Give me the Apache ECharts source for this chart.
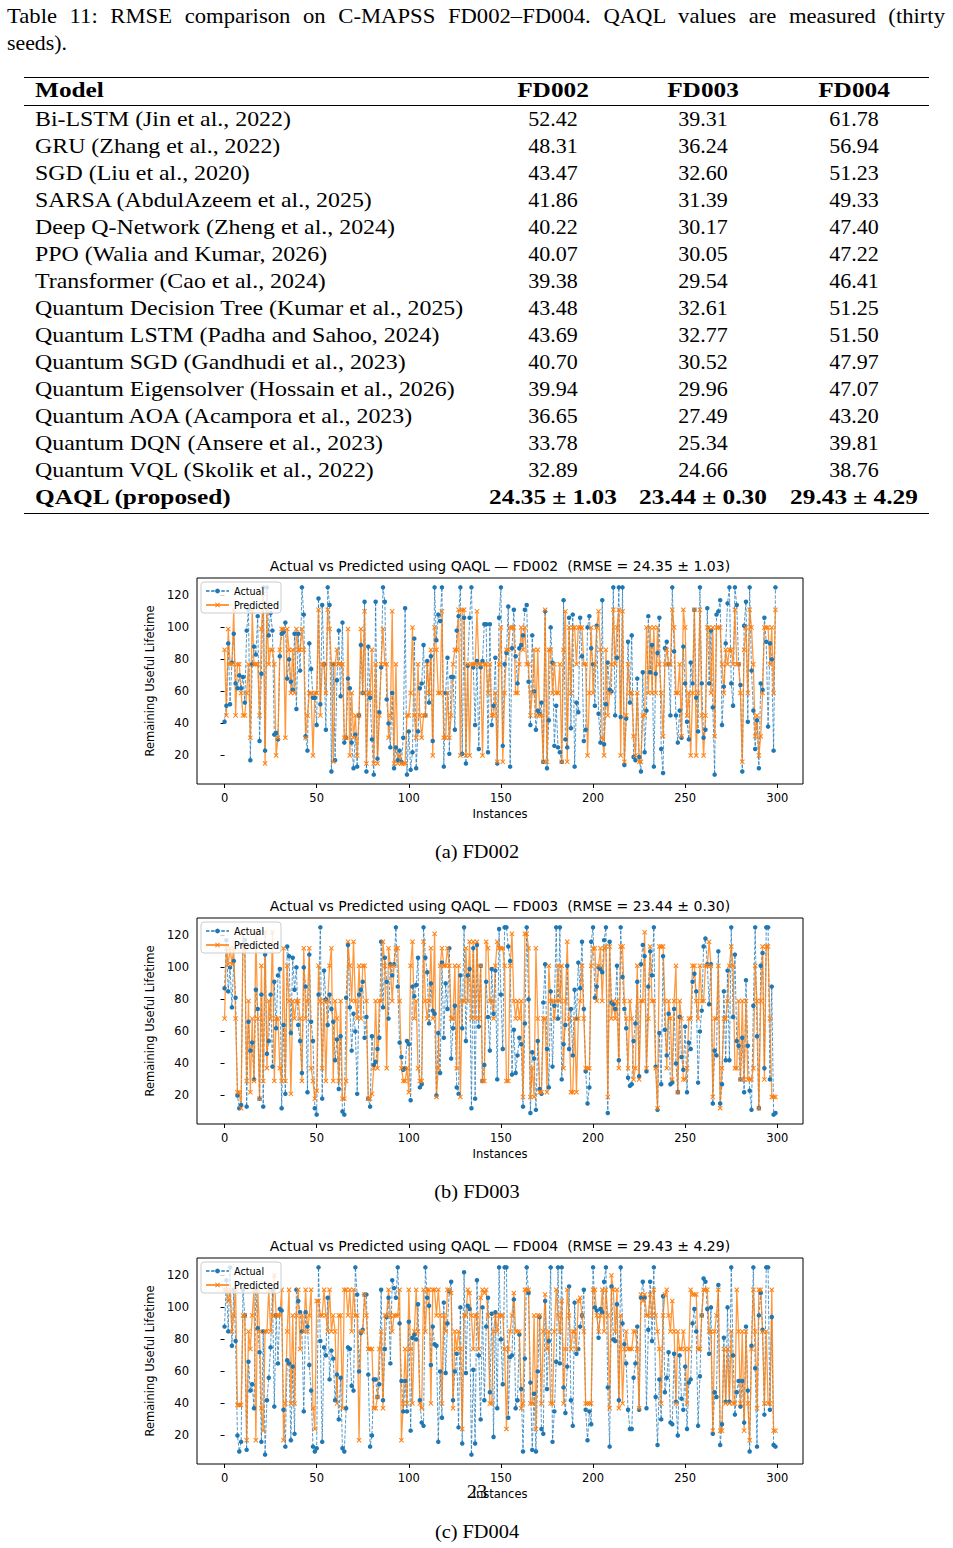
<!DOCTYPE html>
<html>
<head>
<meta charset="utf-8">
<script src="https://cdn.jsdelivr.net/npm/echarts@6/dist/echarts.min.js"></script>
<style>
  html, body { margin: 0; padding: 0; background: #fff; }
  #page { position: relative; width: 953px; height: 1548px; overflow: hidden; }
  #chart { position: absolute; left: 0; top: 0; width: 953px; height: 1548px; }
  .t { position: absolute; white-space: nowrap; font-family: "Liberation Serif", serif; color: #000; z-index: 2; }
  .rule { position: absolute; left: 24px; width: 905px; background: #000; z-index: 2; }
</style>
</head>
<body>
<div id="page"><div id="chart"></div></div>
<script>
// ── 表格数据 ──
const models = [
  'Bi-LSTM (Jin et al., 2022)', 'GRU (Zhang et al., 2022)', 'SGD (Liu et al., 2020)',
  'SARSA (AbdulAzeem et al., 2025)', 'Deep Q-Network (Zheng et al., 2024)',
  'PPO (Walia and Kumar, 2026)', 'Transformer (Cao et al., 2024)',
  'Quantum Decision Tree (Kumar et al., 2025)', 'Quantum LSTM (Padha and Sahoo, 2024)',
  'Quantum SGD (Gandhudi et al., 2023)', 'Quantum Eigensolver (Hossain et al., 2026)',
  'Quantum AOA (Acampora et al., 2023)', 'Quantum DQN (Ansere et al., 2023)',
  'Quantum VQL (Skolik et al., 2022)',
];
const rmseFD002 = ['52.42','48.31','43.47','41.86','40.22','40.07','39.38','43.48','43.69','40.70','39.94','36.65','33.78','32.89'];
const rmseFD003 = ['39.31','36.24','32.60','31.39','30.17','30.05','29.54','32.61','32.77','30.52','29.96','27.49','25.34','24.66'];
const rmseFD004 = ['61.78','56.94','51.23','49.33','47.40','47.22','46.41','51.25','51.50','47.97','47.07','43.20','39.81','38.76'];
const qaqlRow = ['QAQL (proposed)', '24.35 ± 1.03', '23.44 ± 0.30', '29.43 ± 4.29'];

// ── 图表数据 ──
const xTicks = [0, 50, 100, 150, 200, 250, 300];
const yTicks = [20, 40, 60, 80, 100, 120];
const titles = [
  'Actual vs Predicted using QAQL — FD002  (RMSE = 24.35 ± 1.03)',
  'Actual vs Predicted using QAQL — FD003  (RMSE = 23.44 ± 0.30)',
  'Actual vs Predicted using QAQL — FD004  (RMSE = 29.43 ± 4.29)',
];
const captions = ['(a) FD002', '(b) FD003', '(c) FD004'];

const fd002Actual = [
  41,51,90,52,78,96,65,62,70,62,69,53,98,111,17,77,88,83,107,29,
  71,125,23,125,95,109,98,33,34,30,82,96,97,103,68,80,66,61,96,49,
  96,73,125,108,32,23,90,74,56,56,39,118,52,114,77,36,125,114,10,77,
  17,67,98,57,103,28,31,68,62,28,12,33,13,45,89,59,116,10,88,56,
  30,8,116,18,47,75,125,116,55,40,25,59,12,25,17,23,16,31,112,8,
  35,11,22,93,12,35,62,65,89,45,79,53,82,29,125,92,108,104,125,13,
  59,81,21,69,69,36,98,107,125,21,106,15,76,106,125,75,39,79,24,75,
  79,102,102,22,102,39,51,81,15,106,125,26,77,84,113,13,87,111,82,65,
  87,89,95,111,114,66,39,95,60,36,48,46,53,16,110,12,42,100,78,26,
  51,25,22,16,117,30,25,106,37,108,13,53,47,106,82,29,36,100,107,87,
  77,51,101,46,28,117,27,52,78,61,60,125,45,81,125,44,125,14,43,91,
  53,95,19,17,68,19,10,72,22,48,107,72,89,13,71,84,106,24,9,87,
  91,77,45,125,85,45,28,48,31,88,65,41,30,78,65,111,56,35,125,65,
  31,36,112,65,98,50,8,108,110,117,39,63,90,115,125,65,51,125,114,77,
  64,10,101,116,41,125,73,48,24,42,12,65,61,106,91,38,90,80,23,125,
];
const fd002Predicted = [
  86,45,99,77,77,111,45,77,77,59,45,45,59,77,31,110,77,77,77,45,
  99,121,15,110,77,86,86,77,20,31,86,99,99,31,99,86,59,86,59,99,
  86,86,99,86,31,45,59,59,20,59,59,111,45,77,77,59,111,99,77,16,
  77,86,77,77,77,31,31,99,20,59,31,45,20,45,99,59,110,15,59,59,
  86,15,77,15,45,77,99,77,77,31,45,110,15,77,15,20,15,15,15,45,
  45,59,100,45,31,77,45,31,45,45,77,59,86,20,100,86,59,59,110,31,
  31,59,31,45,77,86,86,111,20,111,111,20,77,20,77,77,77,110,77,77,
  20,77,77,59,77,45,45,59,16,77,100,16,59,86,86,100,100,100,59,59,
  77,100,86,100,77,77,45,59,86,45,86,45,45,16,111,16,86,86,59,77,
  59,59,77,16,86,110,16,100,59,100,100,77,100,100,100,77,77,20,59,100,
  59,77,100,110,86,31,20,86,45,59,77,111,77,100,111,20,110,16,45,77,
  59,59,32,20,59,16,16,45,45,100,59,100,59,100,59,100,77,59,32,77,
  86,77,77,111,100,59,59,77,32,111,100,45,59,20,59,111,20,59,111,45,
  20,45,100,100,59,100,32,100,100,100,77,59,86,77,86,86,77,111,77,77,
  59,16,86,100,59,111,100,77,32,45,20,32,59,100,100,100,77,100,59,111,
];
const fd003Actual = [
  87,117,85,100,75,104,81,20,12,14,114,117,13,66,48,53,30,86,74,18,
  83,13,108,46,54,83,38,91,62,95,99,12,64,21,113,107,59,106,86,100,
  64,54,34,100,88,22,108,66,54,12,8,83,125,18,98,80,64,83,74,66,
  42,55,24,57,10,8,81,114,75,48,71,60,21,83,86,91,56,69,18,13,
  57,39,41,49,56,116,75,106,91,68,102,95,102,125,88,53,44,36,37,54,
  52,17,88,82,89,106,25,27,125,106,97,65,90,73,71,20,59,34,103,56,
  90,74,112,43,62,76,25,21,95,62,125,54,95,99,12,112,18,114,63,101,
  29,39,91,69,48,99,71,98,30,124,83,49,125,125,113,104,33,61,34,45,
  56,52,13,65,125,80,9,47,43,11,54,24,21,78,102,49,25,85,38,76,
  125,68,125,30,52,64,101,49,74,45,86,68,103,87,116,74,35,15,25,116,
  125,81,88,100,99,97,117,125,9,116,78,77,74,101,42,125,94,74,62,31,
  26,27,54,65,91,32,102,114,107,35,88,110,95,125,38,11,59,27,107,61,
  45,71,27,28,74,40,22,69,44,36,63,22,53,49,91,96,85,28,60,73,
  113,118,102,77,102,15,48,45,110,15,27,85,42,98,42,125,69,108,54,51,
  30,56,22,92,51,23,11,76,125,57,12,101,109,37,125,125,30,88,8,9,
];
const fd003Predicted = [
  68,112,102,112,102,112,68,22,22,12,122,112,29,79,22,68,29,122,68,18,
  101,29,122,37,79,68,122,29,68,68,37,29,112,29,101,79,21,79,68,79,
  79,68,29,112,68,79,112,37,29,18,23,101,79,37,79,29,79,101,112,29,
  79,68,29,79,18,18,29,116,101,79,116,79,68,101,68,101,101,79,18,18,
  21,37,79,37,79,79,116,101,37,112,101,79,101,112,112,79,37,29,29,37,
  22,101,116,68,79,37,29,29,116,79,68,79,112,68,121,19,37,101,112,101,
  101,112,101,68,68,101,37,101,19,79,79,112,79,116,68,116,68,116,68,101,
  29,29,116,112,79,79,68,101,116,112,112,112,101,29,29,101,121,79,68,79,
  68,79,19,121,121,112,19,37,19,112,68,22,22,68,68,22,101,79,79,68,
  79,101,79,101,37,79,116,68,22,22,68,22,68,79,101,68,37,37,37,101,
  112,112,79,101,112,79,112,113,19,113,68,79,68,79,37,113,113,79,68,37,
  79,68,30,37,101,30,79,79,122,37,68,113,79,79,37,12,113,113,113,79,
  37,79,68,30,79,101,22,79,68,30,30,37,68,68,101,101,79,68,101,79,
  79,101,101,116,101,19,68,68,101,12,37,68,68,79,101,113,101,37,37,79,
  30,79,30,79,30,30,30,37,101,79,12,79,113,30,113,113,68,19,19,19,
];
const fd004Actual = [
  88,117,85,125,76,111,79,20,10,16,111,95,11,66,48,52,37,111,87,72,
  16,85,8,42,56,75,111,38,95,65,99,98,36,13,67,65,17,63,21,111,
  104,97,85,35,97,88,64,48,13,10,12,125,79,16,75,70,106,55,73,68,
  42,58,30,56,12,10,37,75,74,51,48,125,108,60,84,86,108,108,58,13,
  20,55,55,44,52,111,42,74,94,106,65,117,112,106,125,90,54,35,54,35,
  91,23,81,83,80,102,42,28,26,125,106,101,64,88,77,76,16,60,31,103,
  59,90,110,116,42,60,71,25,100,15,122,59,101,99,8,61,15,117,70,30,
  100,42,88,106,47,96,19,97,37,125,80,52,125,125,31,69,70,105,37,42,
  83,49,10,68,125,109,53,11,46,10,60,94,24,21,104,49,79,125,16,35,
  66,125,65,125,50,34,63,113,42,26,103,71,74,88,95,111,36,17,35,27,
  125,100,98,81,99,97,116,125,50,13,113,80,79,102,42,125,90,77,65,36,
  24,24,56,65,88,36,106,116,106,37,86,116,79,125,44,14,55,30,107,47,
  56,72,28,27,71,41,20,70,43,36,63,24,53,55,90,99,85,26,57,95,
  118,116,99,71,100,21,47,44,114,14,27,81,41,100,41,125,70,33,47,54,
  38,54,28,88,48,10,76,125,62,13,95,109,86,33,125,125,36,94,14,13,
];
const fd004Predicted = [
  111,111,104,111,85,95,111,39,39,39,95,95,17,85,74,95,111,17,111,85,
  37,23,85,85,111,85,95,120,95,95,95,111,17,40,85,111,40,95,40,95,
  111,74,95,85,111,85,95,111,37,24,104,104,95,95,111,95,85,111,85,95,
  85,40,95,95,37,111,111,95,111,85,111,95,95,17,85,85,108,95,74,74,
  74,37,37,44,74,85,37,95,95,111,95,85,95,95,95,111,17,40,74,40,
  111,74,40,85,111,85,40,37,111,85,111,111,40,111,111,95,111,95,40,95,
  85,111,111,109,37,85,74,85,74,24,95,95,111,109,95,74,95,95,74,106,
  111,109,111,95,40,40,85,95,85,95,95,95,74,24,74,85,95,109,85,85,
  85,37,40,111,111,111,40,40,95,24,95,95,40,85,108,74,85,40,40,85,
  111,95,85,104,40,74,111,95,74,85,85,74,104,106,95,85,40,40,40,40,
  111,111,95,85,95,111,85,111,95,37,120,111,85,111,37,95,40,74,85,74,
  74,74,85,85,74,37,108,104,108,95,95,108,95,111,95,85,74,40,95,108,
  111,95,85,104,85,40,85,74,74,85,74,40,74,111,108,108,108,74,74,95,
  111,111,111,85,85,23,85,95,111,23,23,74,40,74,40,85,40,40,111,85,
  40,85,23,85,40,17,74,111,85,37,111,111,85,40,85,40,40,111,23,23,
];

const actualSets = [fd002Actual, fd003Actual, fd004Actual];
const predictedSets = [fd002Predicted, fd003Predicted, fd004Predicted];

// ── HTML 文本 ──
const page = document.getElementById('page');
// sx: 横向拉伸 (Computer Modern 比 Liberation Serif 宽)
function put(text, x, cy, size, align, bold, sx) {
  const d = document.createElement('div');
  d.className = 't';
  d.textContent = text;
  const lh = Math.round(size * 1.2);
  d.style.fontSize = size + 'px';
  d.style.lineHeight = lh + 'px';
  d.style.top = (cy - lh / 2) + 'px';
  if (bold) d.style.fontWeight = 'bold';
  if (align === 'center') {
    d.style.left = (x - 150) + 'px';
    d.style.width = '300px';
    d.style.textAlign = 'center';
  } else {
    d.style.left = x + 'px';
  }
  if (sx) {
    d.style.transform = 'scaleX(' + sx + ')';
    d.style.transformOrigin = align === 'center' ? 'center center' : 'left center';
  }
  page.appendChild(d);
  return d;
}
function rule(y, h) {
  const r = document.createElement('div');
  r.className = 'rule';
  r.style.top = y + 'px';
  r.style.height = h + 'px';
  page.appendChild(r);
}

// 表题 (第一行两端对齐)
const capScale = 1.1;
const cap1 = put('Table 11: RMSE comparison on C-MAPSS FD002–FD004.  QAQL values are measured (thirty', 7, 16, 20.6, 'left', false, capScale);
cap1.style.width = (938 / capScale) + 'px';
cap1.style.whiteSpace = 'normal';
cap1.style.textAlign = 'justify';
cap1.style.textAlignLast = 'justify';
put('seeds).', 7, 43, 20, 'left', false, 1.09);

const colX = [35, 553, 703, 854];
const fs = 22;
const plainSx = 1.085, boldSx = 1.15;
rule(77, 1.3);
put('Model', colX[0], 90, fs, 'left', true, boldSx);
['FD002', 'FD003', 'FD004'].forEach((h, i) => put(h, colX[i + 1], 90, fs, 'center', true, boldSx));
rule(104.5, 0.8);
models.forEach((m, r) => {
  const y = 119 + 27 * r;
  put(m, colX[0], y, fs, 'left', false, plainSx);
  put(rmseFD002[r], colX[1], y, fs, 'center');
  put(rmseFD003[r], colX[2], y, fs, 'center');
  put(rmseFD004[r], colX[3], y, fs, 'center');
});
put(qaqlRow[0], colX[0], 497, fs, 'left', true, boldSx);
for (let i = 1; i < 4; i++) put(qaqlRow[i], colX[i], 497, fs, 'center', true, boldSx);
rule(512.5, 1.3);

captions.forEach((c, k) => put(c, 476.5, 851 + 340 * k, 19, 'center', false, 1.07));
put('23', 477, 1491, 19, 'center', false, 1.07);

// ── ECharts ──
const chart = echarts.init(document.getElementById('chart'), null, { renderer: 'svg' });
const gridTops = [578, 918, 1258];
const sans = 'DejaVu Sans';
const xMark = 'path://M0,1.4L1.4,0L5,3.6L8.6,0L10,1.4L6.4,5L10,8.6L8.6,10L5,6.4L1.4,10L0,8.6L3.6,5Z';

const grids = gridTops.map(top => ({
  left: 197, top: top, width: 606, height: 206,
  show: true, borderColor: '#000', borderWidth: 1, backgroundColor: '#fff',
}));
const xAxes = gridTops.map((_, k) => ({
  type: 'value', gridIndex: k, min: -14.95, max: 313.95,
  name: 'Instances', nameLocation: 'middle', nameGap: 24,
  nameTextStyle: { fontFamily: sans, fontSize: 11.5, color: '#000' },
  axisLine: { show: false },
  axisTick: { show: true, length: 4, customValues: xTicks, lineStyle: { color: '#000' } },
  axisLabel: { customValues: xTicks, fontFamily: sans, fontSize: 11.5, color: '#000', margin: 8 },
  splitLine: { show: false },
}));
const yAxes = gridTops.map((_, k) => ({
  type: 'value', gridIndex: k, min: 2.15, max: 130.85,
  name: 'Remaining Useful Lifetime', nameLocation: 'middle', nameGap: 33,
  nameTextStyle: { fontFamily: sans, fontSize: 11.5, color: '#000' },
  axisLine: { show: false },
  axisTick: { show: true, length: 4, customValues: yTicks, lineStyle: { color: '#000' } },
  axisLabel: { customValues: yTicks, fontFamily: sans, fontSize: 11.5, color: '#000', margin: 8 },
  splitLine: { show: false },
}));

const series = [];
gridTops.forEach((_, k) => {
  series.push({
    name: 'Actual', type: 'line', xAxisIndex: k, yAxisIndex: k,
    data: actualSets[k].map((v, i) => [i, v]),
    symbol: 'circle', symbolSize: 4.5,
    itemStyle: { color: '#1f77b4' },
    lineStyle: { color: '#1f77b4', width: 1, type: [3.5, 1.6], opacity: 0.75 },
  });
  series.push({
    name: 'Predicted', type: 'line', xAxisIndex: k, yAxisIndex: k,
    data: predictedSets[k].map((v, i) => [i, v]),
    symbol: xMark, symbolSize: 5,
    itemStyle: { color: '#ff7f0e' },
    lineStyle: { color: '#ff7f0e', width: 1.3, opacity: 0.8 },
  });
});

const legends = gridTops.map(top => ({
  left: 201, top: top + 4, orient: 'vertical',
  data: ['Actual', 'Predicted'],
  itemWidth: 23, itemHeight: 6, itemGap: 4,
  padding: [4, 2, 3, 4],
  textStyle: { fontFamily: sans, fontSize: 9.6, color: '#000' },
  borderColor: '#ccc', borderWidth: 1, borderRadius: 3,
  backgroundColor: 'rgba(255,255,255,0.8)',
  z: 10,
}));

chart.setOption({
  animation: false,
  backgroundColor: 'transparent',
  grid: grids,
  xAxis: xAxes,
  yAxis: yAxes,
  legend: legends,
  series: series,
  graphic: titles.map((t, k) => ({
    type: 'text', x: 500, y: 566 + 340 * k,
    style: { text: t, font: '14px "DejaVu Sans"', fill: '#000', align: 'center', verticalAlign: 'middle' },
  })),
});
</script>
</body>
</html>
